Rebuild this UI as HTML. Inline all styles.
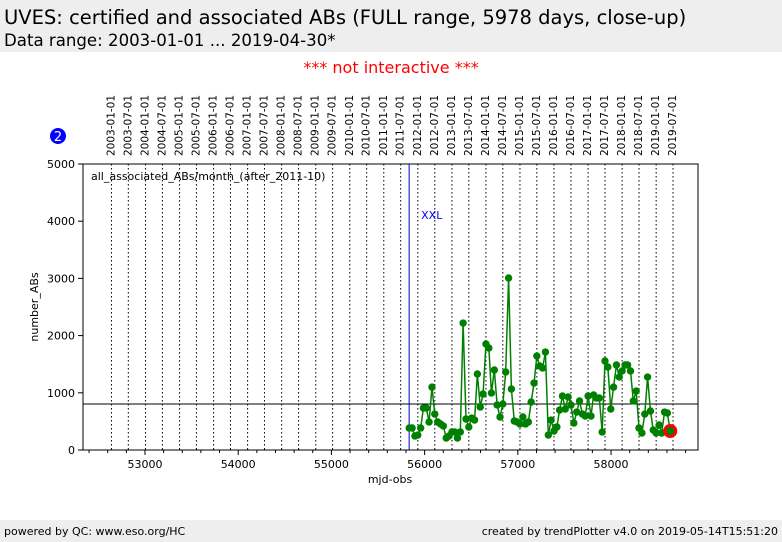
<!DOCTYPE html>
<html><head><meta charset="utf-8"><style>
body{margin:0;width:782px;height:542px;background:#fff;font-family:"DejaVu Sans","Liberation Sans",sans-serif;overflow:hidden;position:relative}
.hdr{position:absolute;left:0;top:0;width:782px;height:52px;background:#eeeeee}
.ftr{position:absolute;left:0;top:520px;width:782px;height:22px;background:#eeeeee;font-size:11px}
</style></head><body>
<div class="hdr">
<div style="position:absolute;left:4px;top:6px;font-size:19.5px">UVES: certified and associated ABs (FULL range, 5978 days, close-up)</div>
<div style="position:absolute;left:4px;top:31px;font-size:16.6px">Data range: 2003-01-01 ... 2019-04-30*</div>
</div>
<div style="position:absolute;left:0;width:782px;top:58px;text-align:center;color:#f00;font-size:16px">*** not interactive ***</div>
<svg id="chart" width="782" height="542" style="position:absolute;left:0;top:0" font-family="DejaVu Sans, Liberation Sans, sans-serif"></svg>
<div class="ftr">
<span style="position:absolute;left:4px;top:5px">powered by QC: www.eso.org/HC</span>
<span style="position:absolute;right:4px;top:5px">created by trendPlotter v4.0 on 2019-05-14T15:51:20</span>
</div>
<script>
const startMonth = "2011-10";
const values = [385,385,245,262,385,734,734,490,1100,629,490,455,420,210,245,315,315,210,315,2220,542,402,559,524,1329,752,979,1853,1783,997,1399,787,577,804,1364,3007,1066,507,490,455,577,455,490,839,1171,1643,1469,1434,1713,262,524,332,402,699,944,717,927,787,472,664,857,629,594,944,594,962,909,909,315,1556,1451,717,1100,1486,1276,1381,1486,1486,1381,857,1031,385,297,629,1276,682,350,297,437,297,664,647,332];
const yTicks = [0,1000,2000,3000,4000,5000];
const xTicks = [53000,54000,55000,56000,57000,58000];
const refLine = 804;
const xxlMjd = 55834;
const svg = document.getElementById('chart');
const NS = 'http://www.w3.org/2000/svg';
const L=83,R=698,T=164,B=450, X0=52335, X1=58933, Y1=5000;
const xs = m => L + (m - X0) / (X1 - X0) * (R - L);
const ys = v => B - v / Y1 * (B - T);
function mk(t, a){const e=document.createElementNS(NS,t);for(const k in a)e.setAttribute(k,a[k]);svg.appendChild(e);return e;}
function mjd(y,m,d){return Date.UTC(y,m-1,d)/86400000+40587;}
let e=mk('rect',{x:L,y:T,width:R-L,height:B-T,fill:'none',stroke:'#000','stroke-width':1});

for(let y=2003;y<=2019;y++)for(const m of [1,7]){
 const x=xs(mjd(y,m,1));
 e=mk('line',{x1:x,x2:x,y1:T,y2:B,stroke:'#000','stroke-dasharray':'1.5,2.5','stroke-width':1});
 
 e=mk('text',{x:0,y:0,'font-size':10.5,transform:`translate(${x+3},156) rotate(-90)`});
 e.textContent=`${y}-0${m}-01`;
 
}
for(let m=52400;m<=58900;m+=200){const x=xs(m);const maj=m%1000===0;
 e=mk('line',{x1:x,x2:x,y1:B,y2:B+(maj?5:3),stroke:'#000'});
 }
xTicks.forEach(t=>{e=mk('text',{x:xs(t),y:B+18,'font-size':11,'text-anchor':'middle'});e.textContent=t;
 });
yTicks.forEach(t=>{const y=ys(t);
 e=mk('line',{x1:L-5,x2:L,y1:y,y2:y,stroke:'#000'});
 e=mk('text',{x:L-8,y:y+4,'font-size':11,'text-anchor':'end'});e.textContent=t;
 });
e=mk('text',{x:390,y:483,'font-size':11,'text-anchor':'middle'});e.textContent='mjd-obs';

e=mk('text',{x:0,y:0,'font-size':11,'text-anchor':'middle',transform:`translate(38,${(T+B)/2}) rotate(-90)`});e.textContent='number_ABs';

e=mk('text',{x:91,y:180,'font-size':11});e.textContent='all_associated_ABs/month_(after_2011-10)';

e=mk('line',{x1:L,x2:R,y1:ys(refLine),y2:ys(refLine),stroke:'#000'});

e=mk('line',{x1:xs(xxlMjd),x2:xs(xxlMjd),y1:T,y2:B,stroke:'#0000cc'});

e=mk('text',{x:xs(xxlMjd)+12,y:219,'font-size':11,fill:'#0000ff'});e.textContent='XXL';

const [sy,sm]=startMonth.split('-').map(Number);
const pts=values.map((v,i)=>{const mm=sm-1+i;return [xs(mjd(sy+Math.floor(mm/12),mm%12+1,1)),ys(v)];});
e=mk('polyline',{points:pts.map(p=>p.join(',')).join(' '),fill:'none',stroke:'#008000','stroke-width':1.5});

pts.forEach(p=>{e=mk('circle',{cx:p[0],cy:p[1],r:3.7,fill:'#008000'});
 });
const lp=pts[pts.length-1];
e=mk('circle',{cx:lp[0],cy:lp[1],r:5.5,fill:'#008000',stroke:'#ff0000','stroke-width':3});

e=mk('circle',{cx:58,cy:136,r:8,fill:'#0000ff'});
e=mk('text',{x:58,y:141,'font-size':13,fill:'#fff','text-anchor':'middle'});e.textContent='2';

</script>
</body></html>
